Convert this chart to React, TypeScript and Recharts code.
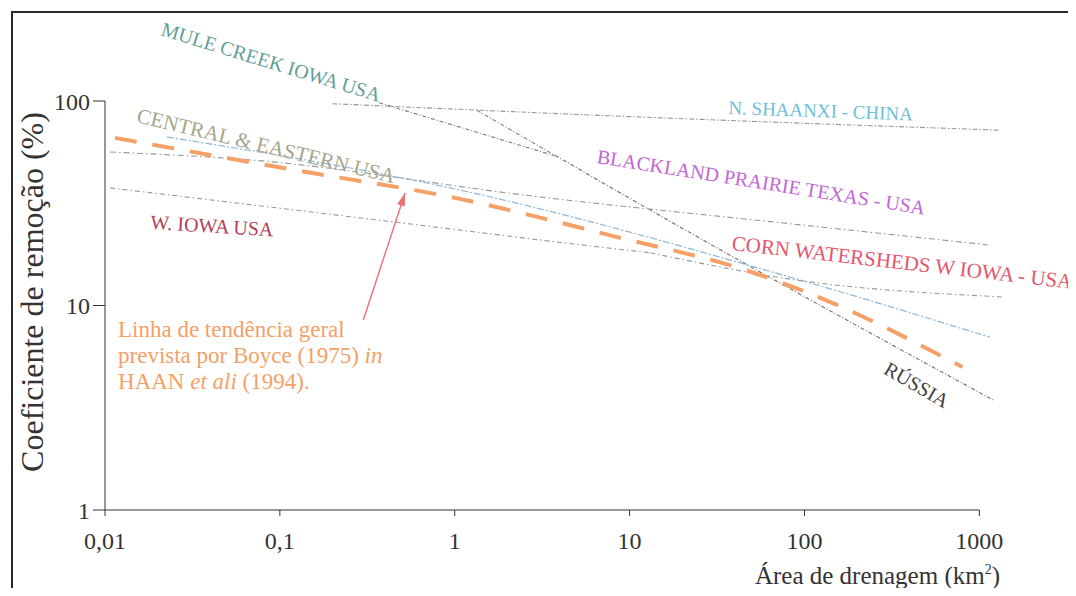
import { LineChart, Line, XAxis, YAxis, ReferenceLine, ReferenceDot } from 'recharts'

const SERIF = '"Liberation Serif", "DejaVu Serif", serif'

// axis ticks: drainage area (km²) and removal coefficient (%)
const areaTicks = [0.01, 0.1, 1, 10, 100, 1000]
const ratioTicks = [1, 10, 100]

// general trend (Boyce 1975)
const boyce = [
  { x: 0.0114, y: 66 },
  { x: 0.13, y: 45.5 },
  { x: 1, y: 33.6 },
  { x: 8.5, y: 21.6 },
  { x: 46, y: 14.9 },
  { x: 133, y: 10.6 },
  { x: 800, y: 5.0 },
]

// regional curves
const shaanxi = [
  { x: 0.2, y: 97 },
  { x: 11.5, y: 83.5 },
  { x: 1300, y: 72 },
]
const muleCreek = [
  { x: 0.37, y: 98 },
  { x: 4, y: 53 },
]
const russia = [
  { x: 1.34, y: 90 },
  { x: 43, y: 16.5 },
  { x: 1200, y: 3.45 },
]
const centralEastern = [
  { x: 0.0226, y: 66.7 },
  { x: 0.94, y: 37.6 },
  { x: 95, y: 13.3 },
  { x: 1150, y: 7.0 },
]
const blackland = [
  { x: 0.0107, y: 56.3 },
  { x: 0.0675, y: 51.5 },
  { x: 3.1, y: 33.9 },
  { x: 95, y: 24.8 },
  { x: 1110, y: 19.8 },
]
const westIowa = [
  { x: 0.0107, y: 37.6 },
  { x: 0.94, y: 23.7 },
  { x: 3.1, y: 20.9 },
  { x: 13.1, y: 18.1 },
]
const cornWatersheds = [
  { x: 13.1, y: 18.1 },
  { x: 91, y: 13.3 },
  { x: 1370, y: 11.0 },
]

// curve names, anchored at the start of each baseline
const curveLabels = [
  { text: 'MULE CREEK IOWA USA', x: 0.0206, y: 210, angle: 17, color: '#5f9f96', size: 20 },
  { text: 'CENTRAL & EASTERN USA', x: 0.015, y: 79, angle: 13.4, color: '#a6a58c', size: 21 },
  { text: 'W. IOWA USA', x: 0.0181, y: 23.7, angle: 3.5, color: '#b4405a', size: 20 },
  { text: 'N. SHAANXI - CHINA', x: 36.6, y: 86.4, angle: 2, color: '#6cbfd8', size: 19 },
  { text: 'BLACKLAND PRAIRIE TEXAS - USA', x: 6.44, y: 49.8, angle: 9, color: '#c266d6', size: 20 },
  { text: 'CORN WATERSHEDS W IOWA - USA', x: 38.1, y: 18.7, angle: 6.5, color: '#e4566e', size: 21 },
  { text: 'RÚSSIA', x: 279, y: 4.68, angle: 30, color: '#404040', size: 20 },
]

const noteAnchor = { x: 0.01187, y: 7.01 }
const arrowTail = { x: 0.3, y: 8.5 }
const arrowTip = { x: 0.52, y: 35.5 }

const ORANGE = '#f4a066'
const GREY = '#979797'

const fmtArea = (v: number) => String(v).replace('.', ',')

function curve(data: { x: number; y: number }[], stroke: string, dash: string, width = 1.1) {
  return (
    <Line
      data={data}
      dataKey="y"
      type="monotone"
      stroke={stroke}
      strokeWidth={width}
      strokeDasharray={dash}
      dot={false}
      activeDot={false}
      isAnimationActive={false}
    />
  )
}

export default function App() {
  return (
    <div style={{ position: 'relative', width: 1076, height: 596, margin: -8, background: '#fff' }}>
      <div
        style={{
          position: 'absolute',
          left: 11,
          top: 11,
          width: 1065,
          height: 585,
          borderTop: '2px solid #2a2a2a',
          borderLeft: '2px solid #2a2a2a',
        }}
      />
      <LineChart width={1076} height={596} margin={{ top: 101, right: 44, bottom: 46, left: 45 }}>
        <XAxis
          dataKey="x"
          type="number"
          scale="log"
          domain={[0.01, 2000]}
          ticks={areaTicks}
          tickFormatter={fmtArea}
          axisLine={false}
          tickLine={{ stroke: '#333' }}
          tickSize={6}
          tickMargin={16}
          height={40}
          tick={{ fill: '#333', fontSize: 24, fontFamily: SERIF }}
          label={{
            content: () => (
              <text x={1000} y={584} textAnchor="end" fill="#333" fontSize={25} fontFamily={SERIF}>
                Área de drenagem (km
                <tspan dy={-10} fontSize={14}>2</tspan>
                <tspan dy={10}>)</tspan>
              </text>
            ),
          }}
        />
        <YAxis
          type="number"
          scale="log"
          domain={[1, 100]}
          ticks={ratioTicks}
          width={60}
          axisLine={{ stroke: '#333' }}
          tickLine={{ stroke: '#333' }}
          tickSize={12}
          tickMargin={3}
          tick={{ fill: '#333', fontSize: 24, fontFamily: SERIF }}
          label={{
            content: () => (
              <text
                x={32}
                y={292}
                transform="rotate(-90 32 292)"
                textAnchor="middle"
                dominantBaseline="central"
                fill="#333"
                fontSize={32}
                fontFamily={SERIF}
              >
                Coeficiente de remoção (%)
              </text>
            ),
          }}
        />
        <ReferenceLine segment={[{ x: 0.01, y: 1 }, { x: 1000, y: 1 }]} stroke="#333" strokeWidth={1.2} />

        {curve(shaanxi, GREY, '5 2 1.5 2')}
        {curve(muleCreek, '#7a7a7a', '4 2 1 2')}
        {curve(russia, '#6e6e6e', '4 2 1 2')}
        {curve(blackland, GREY, '6 3 1.5 3')}
        {curve(centralEastern, '#8fb8d8', '7 2 2 2', 1.2)}
        {curve(westIowa, GREY, '5 3 1.5 3')}
        {curve(cornWatersheds, GREY, '5 3 1.5 3')}
        {curve(boyce, ORANGE, '22 16', 4)}

        <ReferenceLine segment={[arrowTail, arrowTip]} stroke="#ec6f72" strokeWidth={1.4} />
        <ReferenceDot
          x={arrowTip.x}
          y={arrowTip.y}
          r={0}
          ifOverflow="visible"
          shape={(p: any) => (
            <polygon
              points="0,0 -13,-4 -13,4"
              fill="#ec6f72"
              transform={`translate(${p.cx} ${p.cy}) rotate(-71.7)`}
            />
          )}
        />

        {curveLabels.map((l) => (
          <ReferenceDot
            key={l.text}
            x={l.x}
            y={l.y}
            r={0}
            ifOverflow="visible"
            shape={(p: any) => (
              <text
                x={p.cx}
                y={p.cy}
                transform={`rotate(${l.angle} ${p.cx} ${p.cy})`}
                fill={l.color}
                fontSize={l.size}
                fontFamily={SERIF}
              >
                {l.text}
              </text>
            )}
          />
        ))}

        <ReferenceDot
          x={noteAnchor.x}
          y={noteAnchor.y}
          r={0}
          ifOverflow="visible"
          shape={(p: any) => (
            <text x={p.cx} y={p.cy} fill={ORANGE} fontSize={23} fontFamily={SERIF}>
              <tspan x={p.cx}>Linha de tendência geral</tspan>
              <tspan x={p.cx} dy={26}>
                prevista por Boyce (1975) <tspan fontStyle="italic">in</tspan>
              </tspan>
              <tspan x={p.cx} dy={26}>
                HAAN <tspan fontStyle="italic">et ali</tspan> (1994).
              </tspan>
            </text>
          )}
        />
      </LineChart>
    </div>
  )
}
